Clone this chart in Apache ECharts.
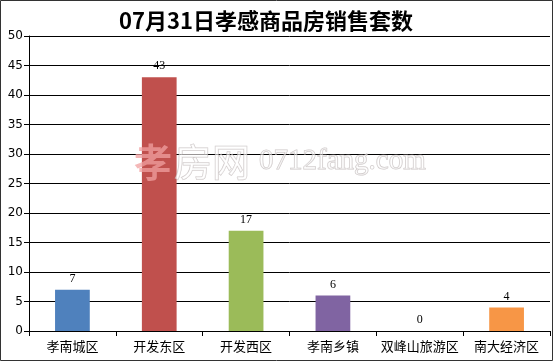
<!DOCTYPE html>
<html><head><meta charset="utf-8">
<script src="https://cdn.jsdelivr.net/npm/echarts@6/dist/echarts.min.js"></script>
<style>html,body{margin:0;padding:0;background:#fff}#c{width:553px;height:361px}</style>
</head><body><div id="c"></div>
<script>
const categories = ['孝南城区','开发东区','开发西区','孝南乡镇','双峰山旅游区','南大经济区'];
const values = [7, 43, 17, 6, 0, 4];
const barColors = ['#4F81BD','#C0504D','#9BBB59','#8064A2','#4BACC6','#F79646'];
const yTicks = [0,5,10,15,20,25,30,35,40,45,50];
const titleText = '07月31日孝感商品房销售套数';

const chart = echarts.init(document.getElementById('c'), null, {renderer:'canvas'});
chart.setOption({
  animation:false,
  backgroundColor:'#fff',
  title:{text:titleText,left:114,top:5,
    textStyle:{fontFamily:'"Noto Sans CJK SC", serif',fontWeight:'bold',fontSize:22,color:'#000'}},
  graphic:[
    {type:'rect',shape:{x:0.5,y:0.5,width:552,height:360},style:{fill:'none',stroke:'#333',lineWidth:1},z:100},
    {type:'text',x:134,y:143,style:{text:'孝',fontSize:38,fontWeight:'bold',fill:'rgba(240,160,160,0.75)',fontFamily:'"Noto Sans CJK SC"'},z:50},
    {type:'text',x:174,y:143,style:{text:'房网',fontSize:38,fill:'rgba(255,255,255,0.6)',stroke:'rgba(170,160,160,0.6)',lineWidth:1,fontFamily:'"Noto Sans CJK SC"'},z:50},
    {type:'text',x:259,y:147,style:{text:'0712fang.com',fontSize:29,fill:'rgba(255,255,255,0.5)',stroke:'rgba(170,160,160,0.6)',lineWidth:1,fontFamily:'"Liberation Serif", serif'},z:50}
  ],
  grid:{left:29,right:3,top:36,bottom:30,containLabel:false},
  xAxis:{type:'category',data:categories,
    axisLine:{lineStyle:{color:'#000',width:1}},
    axisTick:{show:true,alignWithLabel:false,length:5,lineStyle:{color:'#000'}},
    axisLabel:{color:'#000',fontSize:13,margin:9,interval:0,fontFamily:'"Noto Sans CJK SC"'}},
  yAxis:{type:'value',min:0,max:50,interval:5,
    axisLine:{show:true,lineStyle:{color:'#000',width:1}},
    axisTick:{show:true,length:5,lineStyle:{color:'#000'}},
    splitLine:{show:true,lineStyle:{color:'#000',width:1}},
    axisLabel:{color:'#000',fontSize:12,margin:6,fontFamily:'"DejaVu Sans"',
      formatter:v=>yTicks.includes(v)?String(v):''}},
  series:[{type:'bar',barWidth:'40%',
    data:values.map((v,i)=>({value:v,itemStyle:{color:barColors[i]}})),
    label:{show:true,position:'top',distance:5,color:'#000',fontSize:12,fontFamily:'"Liberation Serif", serif'}}]
});
</script></body></html>
